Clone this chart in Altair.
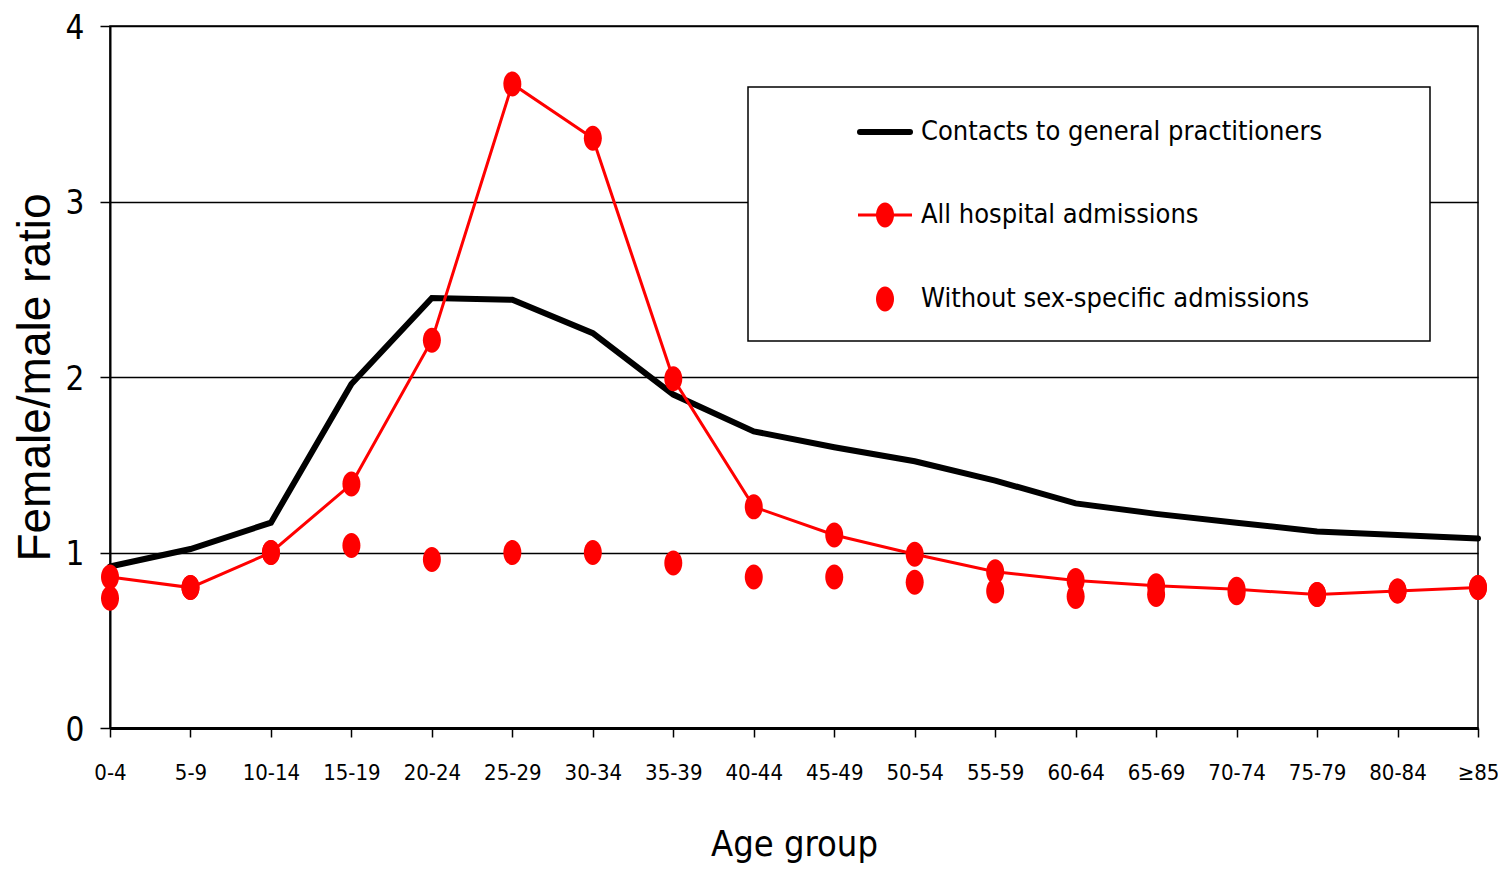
import altair as alt
import pandas as pd

age_groups = ["0-4", "5-9", "10-14", "15-19", "20-24", "25-29", "30-34", "35-39", "40-44",
              "45-49", "50-54", "55-59", "60-64", "65-69", "70-74", "75-79", "80-84", "≥85"]
gp_contacts = [0.92, 1.02, 1.17, 1.96, 2.45, 2.44, 2.25, 1.90, 1.69,
               1.60, 1.52, 1.41, 1.28, 1.22, 1.17, 1.12, 1.10, 1.08]
all_admissions = [0.86, 0.80, 1.00, 1.39, 2.21, 3.67, 3.36, 1.99, 1.26,
                  1.10, 0.99, 0.89, 0.84, 0.81, 0.79, 0.76, 0.78, 0.80]
without_sex_specific = [0.74, 0.80, 1.00, 1.04, 0.96, 1.00, 1.00, 0.94, 0.86,
                        0.86, 0.83, 0.78, 0.75, 0.76, 0.77, 0.76, 0.78, 0.80]
legend_labels = ["Contacts to general practitioners", "All hospital admissions",
                 "Without sex-specific admissions"]

NARROW = "Liberation Sans Narrow, DejaVu Sans Condensed, Arial Narrow, sans-serif"
ELLIPSE = "M -0.72 0 A 0.72 1 0 1 0 0.72 0 A 0.72 1 0 1 0 -0.72 0 Z"

df = pd.DataFrame({"age": age_groups, "gp": gp_contacts,
                   "allh": all_admissions, "wo": without_sex_specific})

x_enc = alt.X("age:O", sort=age_groups, scale=alt.Scale(type="point", padding=0),
              axis=alt.Axis(title="Age group", labelAngle=0))


def y_enc(field):
    return alt.Y(f"{field}:Q", scale=alt.Scale(domain=[0, 4]),
                 axis=alt.Axis(values=[0, 1, 2, 3, 4], title="Female/male ratio", format="d"))


base = alt.Chart(df)
gp_line = base.mark_line(color="black", strokeWidth=6, strokeCap="round").encode(x=x_enc, y=y_enc("gp"))
red_line = base.mark_line(color="#ff0000", strokeWidth=3).encode(x=x_enc, y=y_enc("allh"))
red_pts = base.mark_point(shape=ELLIPSE, size=625, filled=True, color="#ff0000", opacity=1).encode(
    x=x_enc, y=y_enc("allh"))
wo_pts = base.mark_point(shape=ELLIPSE, size=625, filled=True, color="#ff0000", opacity=1).encode(
    x=x_enc, y=y_enc("wo"))

one = pd.DataFrame({"k": [0]})
box = alt.Chart(one).mark_rect(fill="white", stroke="black", strokeWidth=1.5).encode(
    x=alt.value(638), x2=alt.value(1320), y=alt.value(61), y2=alt.value(315))
leg_gp = alt.Chart(one).mark_rule(color="black", strokeWidth=6, strokeCap="round").encode(
    x=alt.value(750), x2=alt.value(800), y=alt.value(106))
leg_red = alt.Chart(one).mark_rule(color="#ff0000", strokeWidth=3).encode(
    x=alt.value(748), x2=alt.value(802), y=alt.value(189))
leg_red_pt = alt.Chart(one).mark_point(shape=ELLIPSE, size=625, filled=True, color="#ff0000", opacity=1).encode(
    x=alt.value(775), y=alt.value(189))
leg_wo_pt = alt.Chart(one).mark_point(shape=ELLIPSE, size=625, filled=True, color="#ff0000", opacity=1).encode(
    x=alt.value(775), y=alt.value(273))

texts = []
for lab, yy in zip(legend_labels, [106, 189, 273]):
    texts.append(
        alt.Chart(pd.DataFrame({"label": [lab]})).mark_text(
            align="left", baseline="middle", font=NARROW, fontSize=27, color="black"
        ).encode(x=alt.value(811), y=alt.value(yy), text="label:N")
    )

chart = alt.layer(
    gp_line, red_line, red_pts, wo_pts, box, leg_gp, leg_red, leg_red_pt, leg_wo_pt, *texts
).properties(
    width=1368, height=702,
    padding={"left": 102, "top": 18, "right": 20, "bottom": 135},
    autosize=alt.AutoSizeParams(type="none"),
    background="white",
).configure_view(
    stroke="black", strokeWidth=1.5
).configure_axisY(
    labelFont=NARROW, labelFontSize=33, labelColor="black", labelPadding=16, labelOffset=2,
    tickSize=10, tickColor="black", tickWidth=1.5,
    domainColor="black", domainWidth=2,
    grid=True, gridColor="black", gridWidth=1.5, gridOpacity=1,
    titleFont="Liberation Sans, Arial, sans-serif", titleFontSize=46, titleFontWeight="normal",
    titleColor="black", titlePadding=6,
).configure_axisX(
    labelFont=NARROW, labelFontSize=22, labelColor="black", labelPadding=25,
    tickSize=9, tickColor="black", tickWidth=1.5,
    domainColor="black", domainWidth=3, grid=False,
    titleFont=NARROW, titleFontSize=36, titleFontWeight="normal",
    titleColor="black", titlePadding=44,
)

chart.save("out.html", embed_options={"renderer": "svg", "actions": False})
